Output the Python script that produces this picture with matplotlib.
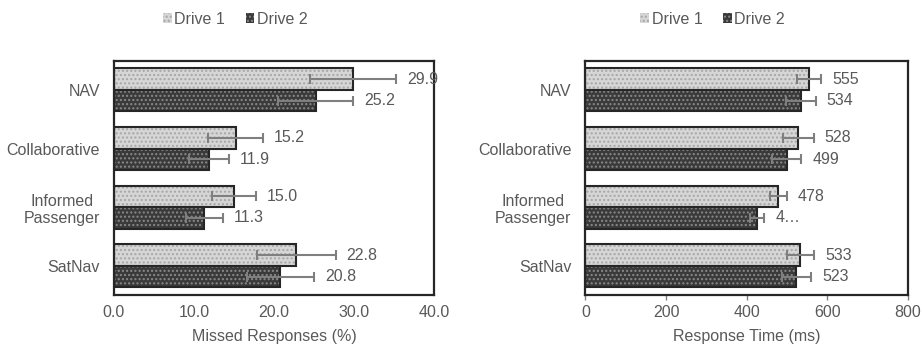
import matplotlib
matplotlib.use("Agg")
import matplotlib.pyplot as plt
from matplotlib.patches import Patch
import numpy as np

plt.rcParams["font.family"] = ["Liberation Sans", "DejaVu Sans"]
plt.rcParams["hatch.linewidth"] = 1.0

categories = ["NAV", "Collaborative", "Informed\nPassenger", "SatNav"]
series_names = ["Drive 1", "Drive 2"]

missed_d1 = [29.9, 15.2, 15.0, 22.8]
missed_d2 = [25.2, 11.9, 11.3, 20.8]
missed_err_d1 = [5.4, 3.4, 2.7, 4.9]
missed_err_d2 = [4.7, 2.5, 2.3, 4.2]
missed_ticks = [0, 10, 20, 30, 40]
missed_tick_labels = ["0.0", "10.0", "20.0", "30.0", "40.0"]

rt_d1 = [555, 528, 478, 533]
rt_d2 = [534, 499, 425, 523]
rt_err_d1 = [30, 38, 21, 34]
rt_err_d2 = [37, 36, 18, 36]
rt_labels_d1 = ["555", "528", "478", "533"]
rt_labels_d2 = ["534", "499", "4\u2026", "523"]
rt_ticks = [0, 200, 400, 600, 800]
rt_tick_labels = ["0", "200", "400", "600", "800"]

TXT = "#595959"
EDGE = "#262626"
ERR = "#7f7f7f"
styles = [
    dict(face="#d6d6d6", hatch_col="#a6a6a6"),
    dict(face="#3a3a3a", hatch_col="#8a8a8a"),
]

fig = plt.figure(figsize=(9.22, 3.46), dpi=100)
ax1 = fig.add_axes([0.1236, 0.147, 0.347, 0.678])
ax2 = fig.add_axes([0.635, 0.147, 0.3498, 0.678])

bar_h = 0.365
y = np.arange(len(categories))


def draw(ax, vals, errs, labels, xmax, ticks, tick_labels, xlabel, show_ticks):
    for k, (v, e, lab) in enumerate(zip(vals, errs, labels)):
        st = styles[k]
        pos = y - bar_h / 2 + k * bar_h
        ax.barh(pos, v, height=bar_h, color=st["face"], edgecolor=st["hatch_col"],
                hatch="....", linewidth=0, zorder=2)
        ax.barh(pos, v, height=bar_h, fill=False, edgecolor=EDGE, linewidth=1.5, zorder=3)
        ax.errorbar(v, pos, xerr=e, fmt="none", ecolor=ERR, elinewidth=1.5,
                    capsize=3.3, capthick=1.5, zorder=4)
        for vi, ei, pi, li in zip(v, e, pos, lab):
            ax.annotate(li, (vi + ei, pi), xytext=(8, 0), textcoords="offset points",
                        va="center", ha="left", fontsize=11.5, color=TXT, zorder=5)
    ax.set_xlim(0, xmax)
    ax.set_ylim(len(categories) - 0.5, -0.5)
    ax.set_yticks(y)
    ax.set_yticklabels(categories, multialignment="center")
    ax.set_xticks(ticks)
    ax.set_xticklabels(tick_labels)
    ax.tick_params(axis="y", length=0, pad=10, labelsize=11.5, labelcolor=TXT)
    tick_len = 3.5 if show_ticks else 0
    ax.tick_params(axis="x", length=tick_len, width=1, color="#808080",
                   pad=7 - tick_len, labelsize=11.5, labelcolor=TXT)
    for s in ax.spines.values():
        s.set_linewidth(1.6)
        s.set_color(EDGE)
    ax.set_xlabel(xlabel, fontsize=11.5, color=TXT, va="center")
    ax.xaxis.set_label_coords(0.5, -0.176)


draw(ax1, [missed_d1, missed_d2], [missed_err_d1, missed_err_d2],
     [[f"{v:.1f}" for v in missed_d1], [f"{v:.1f}" for v in missed_d2]],
     40, missed_ticks, missed_tick_labels, "Missed Responses (%)", False)
draw(ax2, [rt_d1, rt_d2], [rt_err_d1, rt_err_d2], [rt_labels_d1, rt_labels_d2],
     800, rt_ticks, rt_tick_labels, "Response Time (ms)", True)

handles = [Patch(facecolor=st["face"], edgecolor=st["hatch_col"], hatch="....",
                 linewidth=0) for st in styles]
for cx in (0.255, 0.773):
    fig.legend(handles, series_names, loc="center", bbox_to_anchor=(cx, 0.945),
               ncol=2, frameon=False, fontsize=11.5, labelcolor=TXT,
               handlelength=0.55, handleheight=0.55, handletextpad=0.15,
               columnspacing=1.3)

fig.savefig("out.png", dpi=100)
